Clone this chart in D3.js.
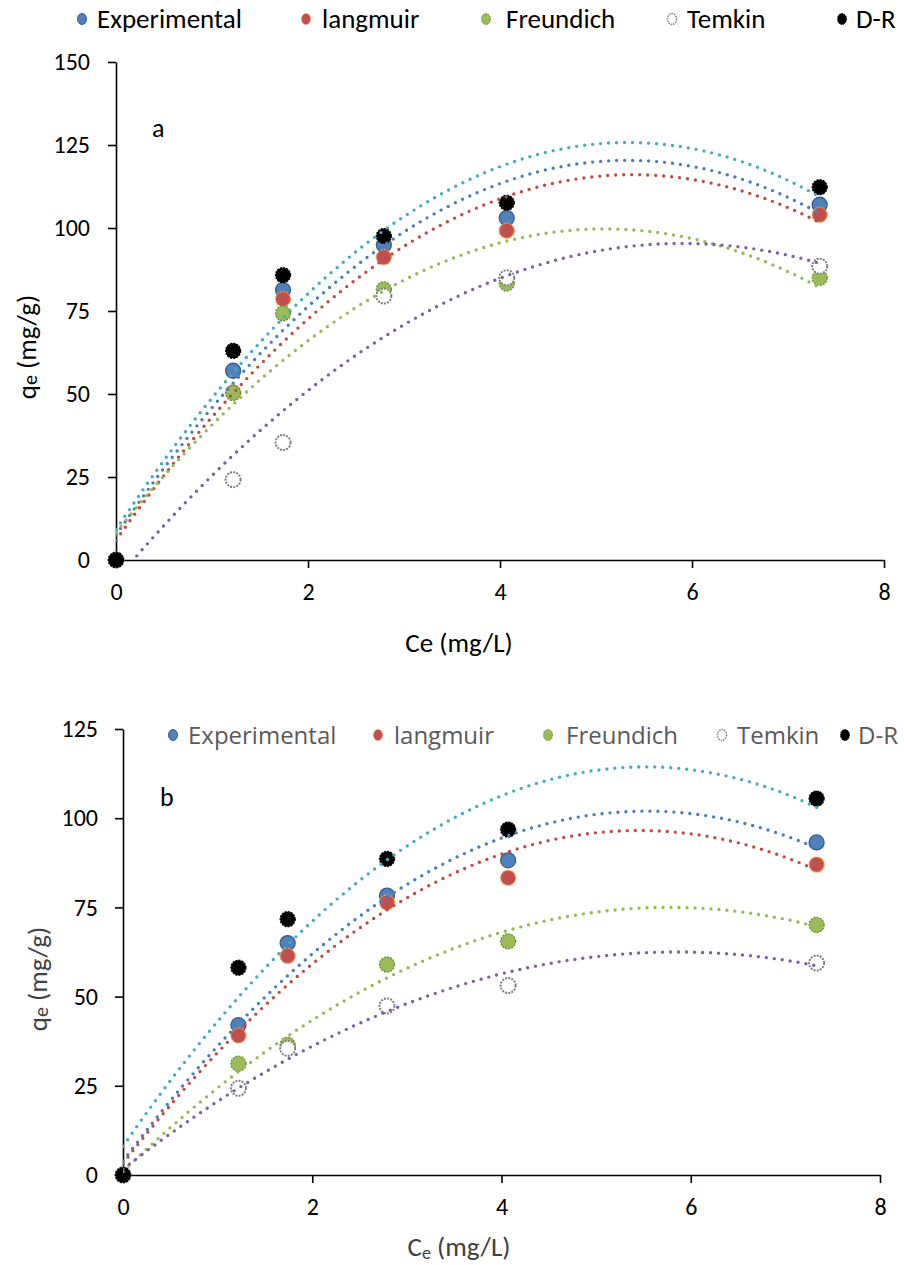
<!DOCTYPE html>
<html lang="en">
<head>
    <meta charset="UTF-8">
    <script src="https://d3js.org/d3.v7.min.js"></script>
    <style>
        body {margin: 0; background-color: #ffffff}
        svg {display: block;}
        text {font-family: Carlito, Calibri, Lato, sans-serif;}
    </style>
</head>
<body>
<svg class="chart" width="904" height="1265"></svg>
<script type="text/javascript">
    // Ce values (mg/L), shared by both panels
    const ce = [0, 1.22, 1.74, 2.79, 4.07, 7.33];
    const seriesNames = ['Experimental', 'langmuir', 'Freundich', 'Temkin', 'D-R'];

    // panel a, qe (mg/g)
    const expA = [0, 57, 81.3, 94.9, 103, 107];
    const langA = [0, 50.5, 78.6, 91.2, 99.2, 104];
    const freA = [0, 50.3, 74.3, 81.5, 83.3, 85];
    const temA = [0, 24.2, 35.4, 79.5, 85, 88.5];
    const drA = [0, 63, 85.8, 97.6, 107.6, 112.3];

    // panel b, qe (mg/g)
    const expB = [0, 42, 65, 78.3, 88.2, 93.2];
    const langB = [0, 39.1, 61.4, 76.4, 83.3, 87];
    const freB = [0, 31.2, 36.5, 59, 65.5, 70.1];
    const temB = [0, 24.3, 35.5, 47.4, 53.1, 59.4];
    const drB = [0, 58.1, 71.7, 88.6, 96.8, 105.5];

    const xTicks = [0, 2, 4, 6, 8];
    const yTicksA = [0, 25, 50, 75, 100, 125, 150];
    const yTicksB = [0, 25, 50, 75, 100, 125];

    const markerStyle = [
        {fill: '#4F81BD', stroke: '#385D8A', dash: null},
        {fill: '#C0504D', stroke: '#F79646', dash: '2 1.2'},
        {fill: '#9BBB59', stroke: '#6B8A35', dash: '2 1.2'},
        {fill: '#ffffff', stroke: '#7F7F7F', dash: '2 1.2'},
        {fill: '#000000', stroke: '#000000', dash: '2 1.2'}
    ];
    const lineColors = ['#4A7EBB', '#BE4B48', '#98B954', '#7D60A0', '#46AAC5'];

    // least squares 2nd order polynomial, like the spreadsheet trendline
    function polyFit(xs, ys) {
        let s = [0, 0, 0, 0, 0], t = [0, 0, 0];
        xs.forEach((x, i) => {
            for (let k = 0; k < 5; k++) s[k] += Math.pow(x, k);
            for (let k = 0; k < 3; k++) t[k] += ys[i] * Math.pow(x, k);
        });
        let m = [[s[0], s[1], s[2], t[0]], [s[1], s[2], s[3], t[1]], [s[2], s[3], s[4], t[2]]];
        for (let c = 0; c < 3; c++) {
            for (let r = c + 1; r < 3; r++) {
                let f = m[r][c] / m[c][c];
                for (let k = c; k < 4; k++) m[r][k] -= f * m[c][k];
            }
        }
        let co = [0, 0, 0];
        for (let r = 2; r >= 0; r--) {
            let v = m[r][3];
            for (let k = r + 1; k < 3; k++) v -= m[r][k] * co[k];
            co[r] = v / m[r][r];
        }
        return x => co[0] + co[1] * x + co[2] * x * x;
    }

    const svg = d3.select('.chart');

    function drawPanel(cfg) {
        let x = d3.scaleLinear().domain([0, 8]).range([cfg.left, cfg.right]);
        let y = d3.scaleLinear().domain([0, cfg.yMax]).range([cfg.bottom, cfg.top]);
        let g = svg.append('g');

        g.append('clipPath').attr('id', 'clip' + cfg.name)
            .append('rect')
            .attr('x', cfg.left).attr('y', cfg.top)
            .attr('width', cfg.right - cfg.left).attr('height', cfg.bottom - cfg.top);

        let xAxis = g.append('g')
            .attr('transform', 'translate(0,' + cfg.bottom + ')')
            .call(d3.axisBottom(x).tickValues(xTicks).tickSize(8).tickPadding(15).tickSizeOuter(0));
        let yAxis = g.append('g')
            .attr('transform', 'translate(' + cfg.left + ',0)')
            .call(d3.axisLeft(y).tickValues(cfg.yTicks).tickSize(8).tickPadding(cfg.yPad).tickSizeOuter(0));
        [xAxis, yAxis].forEach(a => {
            a.selectAll('path, line').attr('stroke', '#000').attr('stroke-width', 1.6);
            a.selectAll('text').attr('fill', '#000').style('font-size', '24px')
                .style('font-family', 'Carlito, Calibri, Lato, sans-serif');
        });

        // markers
        cfg.series.forEach((vals, si) => {
            let st = markerStyle[si];
            g.append('g').selectAll('circle').data(vals).enter().append('circle')
                .attr('cx', (d, i) => x(ce[i]))
                .attr('cy', d => y(d))
                .attr('r', 7.5)
                .attr('fill', st.fill)
                .attr('stroke', st.stroke)
                .attr('stroke-width', si === 3 ? 2 : 1.3)
                .attr('stroke-dasharray', st.dash);
        });

        // dotted trendlines
        let lineGen = d3.line().x(d => x(d[0])).y(d => y(d[1]));
        cfg.series.forEach((vals, si) => {
            let f = polyFit(ce, vals);
            let pts = d3.range(0, 201).map(k => {
                let xv = ce[ce.length - 1] * k / 200;
                return [xv, f(xv)];
            });
            g.append('path')
                .attr('clip-path', 'url(#clip' + cfg.name + ')')
                .attr('d', lineGen(pts))
                .attr('fill', 'none')
                .attr('stroke', lineColors[si])
                .attr('stroke-width', 3.4)
                .attr('stroke-linecap', 'round')
                .attr('stroke-dasharray', '0 8');
        });

        // legend
        let lg = g.append('g');
        seriesNames.forEach((n, si) => {
            let st = markerStyle[si];
            lg.append('ellipse')
                .attr('cx', cfg.legendX[si]).attr('cy', cfg.legendY)
                .attr('rx', 4.5).attr('ry', 5.5)
                .attr('fill', st.fill).attr('stroke', st.stroke)
                .attr('stroke-width', si === 3 ? 1.5 : 1)
                .attr('stroke-dasharray', st.dash ? '1.5 1' : null);
            lg.append('text')
                .attr('x', cfg.legendX[si] + cfg.legendGap[si]).attr('y', cfg.legendY + 9)
                .attr('fill', cfg.legendColor)
                .style('font-size', cfg.legendSize)
                .style('font-family', cfg.legendFont)
                .text(n);
        });

        // panel letter
        g.append('text').attr('x', cfg.letter[0]).attr('y', cfg.letter[1])
            .style('font-size', '26px').attr('fill', '#000').text(cfg.name);

        // axis titles
        let xt = g.append('text')
            .attr('x', cfg.xTitle[0]).attr('y', cfg.xTitle[1])
            .attr('text-anchor', 'middle').attr('fill', cfg.titleColor)
            .style('font-size', '27px');
        xt.append('tspan').text('C');
        xt.append('tspan').style('font-size', cfg.subSize).attr('dy', cfg.subDy).text('e');
        xt.append('tspan').attr('dy', cfg.subDy ? -cfg.subDy : 0).text(' (mg/L)');

        let yt = g.append('text')
            .attr('transform', 'translate(' + cfg.yTitle[0] + ',' + cfg.yTitle[1] + ') rotate(-90)')
            .attr('text-anchor', 'middle').attr('fill', cfg.titleColor)
            .style('font-size', '27px');
        yt.append('tspan').text('q');
        yt.append('tspan').style('font-size', '20px').attr('dy', 1).text('e');
        yt.append('tspan').attr('dy', -1).text(' (mg/g)');
    }

    drawPanel({
        name: 'a', left: 116, right: 884, top: 62, bottom: 560, yMax: 150, yTicks: yTicksA, yPad: 18,
        series: [expA, langA, freA, temA, drA],
        legendX: [82, 306, 486, 672, 842], legendGap: [15, 16, 20, 15, 14], legendY: 19,
        legendColor: '#000', legendSize: '27px', legendFont: 'Carlito, Calibri, Lato, sans-serif',
        letter: [152, 137], titleColor: '#000', subSize: '27px', subDy: 0,
        xTitle: [459, 652], yTitle: [36, 347]
    });

    drawPanel({
        name: 'b', left: 123, right: 880, top: 729, bottom: 1175, yMax: 125, yTicks: yTicksB, yPad: 17,
        series: [expB, langB, freB, temB, drB],
        legendX: [173, 378, 548, 722, 845], legendGap: [15, 16, 18, 15, 13], legendY: 735,
        legendColor: '#595959', legendSize: '24px', legendFont: '"Open Sans", sans-serif',
        letter: [160, 806], titleColor: '#404040', subSize: '18px', subDy: 3,
        xTitle: [459, 1256], yTitle: [47, 979]
    });
</script>
</body>
</html>
